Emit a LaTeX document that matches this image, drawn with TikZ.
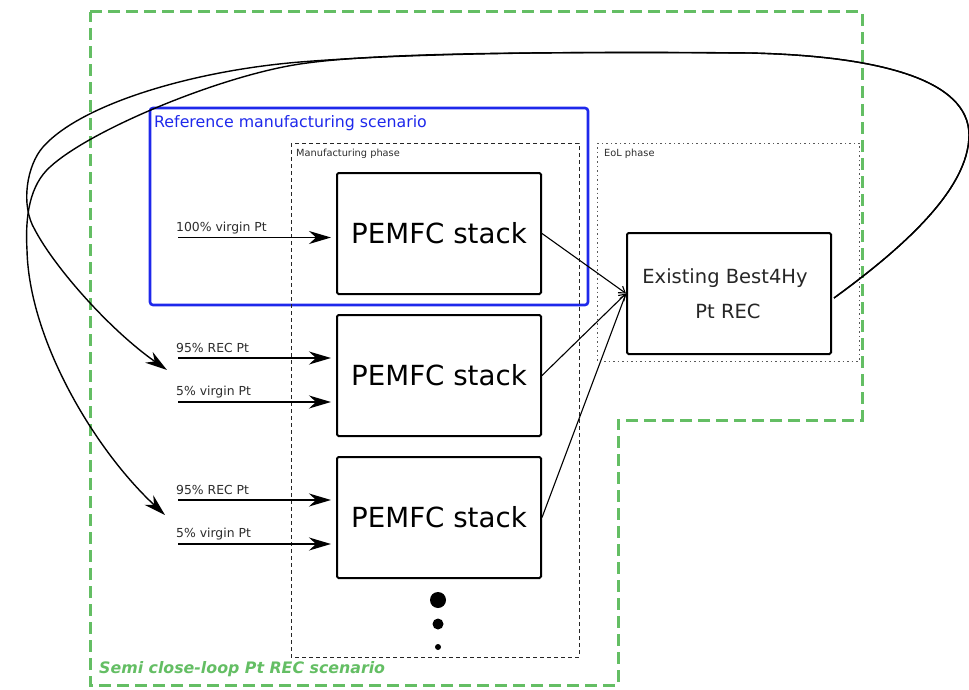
\documentclass[tikz,border=0pt]{standalone}
\usepackage{fontspec}
\setmainfont{DejaVu Sans}
\usetikzlibrary{arrows.meta}
\definecolor{grn}{RGB}{100,190,100}
\definecolor{blu}{RGB}{30,40,235}
\definecolor{txt}{RGB}{45,45,45}
\begin{document}
\begin{tikzpicture}[x=1pt,y=-1pt,
  stackbox/.style={draw, line width=2pt, rounded corners=1.5pt, minimum width=204pt, minimum height=121pt, inner sep=0pt, font=\fontsize{27.7}{32}\selectfont},
  bigarrow/.style={line width=1.5pt, -{Stealth[length=22pt,width=13pt,inset=7pt]}},
  thinarrow/.style={line width=1.1pt, -{Straight Barb[length=6pt,width=8pt]}},
  inlabel/.style={anchor=base west, inner sep=0pt, text=txt, font=\fontsize{12.4}{14}\selectfont},
  phaselabel/.style={anchor=base west, inner sep=0pt, text=txt, font=\fontsize{9.8}{11}\selectfont},
  reclabel/.style={anchor=base, inner sep=0pt, text=black!85, font=\fontsize{19.5}{22}\selectfont},
  loopline/.style={line width=1.4pt, -{Stealth[length=22pt,width=13pt,inset=7pt]}},
]
\useasboundingbox (0,0) rectangle (969,690);

% outer green scenario boundary
\draw[grn, line width=3pt, dash pattern=on 12pt off 6pt]
  (90,12) -- (862,12) -- (862,420) -- (618,420) -- (618,685) -- (90,685) -- cycle;
\node[anchor=base west, inner sep=0pt, text=grn, font=\fontsize{15.8}{18}\selectfont\bfseries\itshape] (semi) at (99,673) {Semi close-loop Pt REC scenario};

% blue reference scenario
\draw[blu, line width=2.6pt, rounded corners=3pt] (150,108) rectangle (588,305);
\node[anchor=base west, inner sep=0pt, text=blu, font=\fontsize{15.8}{18}\selectfont] (refl) at (154,128) {Reference manufacturing scenario};

% phase boxes
\draw[black!85, line width=0.9pt, dash pattern=on 4pt off 3pt] (291,143) rectangle (579,657);
\node[phaselabel] (manl) at (296,157) {Manufacturing phase};
\draw[black!65, line width=0.9pt, dash pattern=on 1.5pt off 3pt] (597,143) rectangle (859,361);
\node[phaselabel] (eoll) at (604,157) {EoL phase};

% stacks
\node[stackbox] (p1) at (439,233.5) {PEMFC stack};
\node[stackbox] (p2) at (439,375.5) {PEMFC stack};
\node[stackbox] (p3) at (439,517.5) {PEMFC stack};

% recycling
\node[draw, line width=2pt, rounded corners=1.5pt, minimum width=204pt, minimum height=121pt, inner sep=0pt] (rec) at (729,293.5) {};
\node[reclabel] (rect1) at (725,283) {Existing Best4Hy};
\node[reclabel] (rect2) at (728,318) {Pt REC};

% inputs
\coordinate (i1) at (178,237.5);
\coordinate (i2a) at (178,358);
\coordinate (i2b) at (178,402);
\coordinate (i3a) at (178,500);
\coordinate (i3b) at (178,544);
\node[inlabel] (l1) at (176,231.5) {100\% virgin Pt};
\node[inlabel] (l2a) at (176,352) {95\% REC Pt};
\node[inlabel] (l2b) at (176,395) {5\% virgin Pt};
\node[inlabel] (l3a) at (176,494) {95\% REC Pt};
\node[inlabel] (l3b) at (176,537) {5\% virgin Pt};
\draw[bigarrow, shorten >=5pt] (i1) -- (i1 -| p1.west);
\draw[bigarrow, shorten >=5pt] (i2a) -- (i2a -| p2.west);
\draw[bigarrow, shorten >=5pt] (i2b) -- (i2b -| p2.west);
\draw[bigarrow, shorten >=5pt] (i3a) -- (i3a -| p3.west);
\draw[bigarrow, shorten >=5pt] (i3b) -- (i3b -| p3.west);

% to recycling
\draw[thinarrow] (p1.east) -- (rec.west);
\draw[thinarrow] (p2.east) -- (rec.west);
\draw[thinarrow] (p3.east) -- (rec.west);

% return loops
\coordinate (t2) at (167,370);
\coordinate (t3) at (165,515);
\draw[loopline] ([xshift=2pt,yshift=-4.5pt]rec.east) .. controls (900,250) and (969,190) .. (969,135)
  .. controls (969,80) and (880,56) .. (750,53)
  .. controls (550,51) and (400,54) .. (300,62)
  .. controls (190,71) and (80,105) .. (43,147)
  .. controls (27,165) and (20,205) .. (35,230)
  .. controls (55,268) and (110,330) .. (t2);
\draw[loopline] ([xshift=2pt,yshift=-4.5pt]rec.east) .. controls (900,250) and (969,190) .. (969,135)
  .. controls (969,80) and (880,56) .. (750,53)
  .. controls (550,52) and (380,52) .. (300,64)
  .. controls (220,76) and (90,130) .. (50,167)
  .. controls (30,185) and (25,215) .. (27,250)
  .. controls (29,340) and (95,450) .. (t3);

% continuation dots
\fill (438,600) circle (8pt);
\fill (438,624) circle (5.5pt);
\fill (438,647) circle (3pt);
\end{tikzpicture}
\end{document}
